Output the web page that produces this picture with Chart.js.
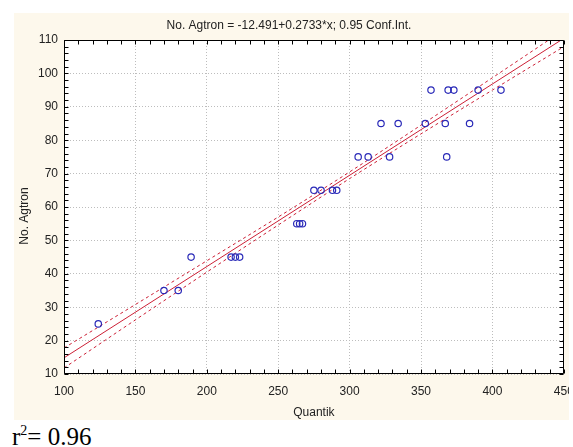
<!DOCTYPE html>
<html>
<head>
<meta charset="utf-8">
<script src="https://cdn.jsdelivr.net/npm/chart.js@4/dist/chart.umd.min.js"></script>
<style>
  html, body { margin: 0; padding: 0; background: #ffffff; }
  #wrap { position: absolute; left: 0; top: 0; width: 569px; height: 420px; }
  #r2 {
    position: absolute; left: 12px; top: 424px;
    font-family: "Liberation Serif", "Times New Roman", serif;
    font-size: 25px; line-height: 25px; color: #000; white-space: nowrap;
  }
  #r2 span { font-size: 14px; position: relative; top: -10px; }
</style>
</head>
<body>
<div id="wrap"><canvas id="c" width="569" height="420"></canvas></div>
<div id="r2">r<span>2</span>= 0.96</div>
<script>
// Observations: Quantik reading vs. Agtron number
const quantik = [124, 170, 180, 189, 217, 220, 223, 263, 265, 267,
                 275, 280, 288, 291, 306, 313, 328, 368,
                 322, 334, 353, 367, 384, 357, 369, 373, 390, 406];
const agtron  = [25, 35, 35, 45, 45, 45, 45, 55, 55, 55,
                 65, 65, 65, 65, 75, 75, 75, 75,
                 85, 85, 85, 85, 85, 95, 95, 95, 95, 95];

// Fitted line: No. Agtron = -12.491 + 0.2733 * x
const fitIntercept = -12.491;
const fitSlope = 0.2733;
const fitX = [100, 450];

// 0.95 confidence band of the fit
const bandX     = [100, 150, 200, 250, 300, 350, 400, 450];
const bandUpper = [17.8, 30.8, 43.9, 57.0, 70.5, 84.5, 98.7, 113.0];
const bandLower = [11.8, 26.2, 40.5, 54.6, 68.5, 81.9, 95.0, 108.0];

const titleText = 'No. Agtron = -12.491+0.2733*x; 0.95 Conf.Int.';
const xTitle = 'Quantik';
const yTitle = 'No. Agtron';

const FONT = '"Liberation Sans", Arial, sans-serif';
const TEXT = '#222222';
const RED = '#cc2036';
const BLUE = '#2a2ab8';

const toPts = (xs, ys) => xs.map((x, i) => ({ x: x, y: ys[i] }));

// Panel background, plot frame, inward tick marks and the vertical axis title
const framePlugin = {
  id: 'framePlugin',
  beforeDraw(chart) {
    const ctx = chart.ctx, a = chart.chartArea;
    ctx.save();
    ctx.fillStyle = '#fdf8ec';
    ctx.fillRect(14, 13, chart.width - 14, chart.height - 13);
    ctx.fillStyle = '#ffffff';
    ctx.fillRect(a.left, a.top, a.right - a.left, a.bottom - a.top);
    ctx.restore();
  },
  afterDraw(chart) {
    const ctx = chart.ctx, a = chart.chartArea;
    const xs = chart.scales.x, ys = chart.scales.y;
    ctx.save();
    ctx.strokeStyle = '#000000';
    ctx.lineWidth = 1;
    ctx.beginPath();
    const L = Math.round(a.left) + 0.5, R = Math.round(a.right) - 0.5;
    const T = Math.round(a.top) + 0.5, B = Math.round(a.bottom) - 0.5;
    ctx.rect(L, T, R - L, B - T);
    ctx.stroke();
    ctx.beginPath();
    for (let v = xs.min; v <= xs.max; v += 10) {
      const p = Math.round(xs.getPixelForValue(v)) + 0.5;
      ctx.moveTo(p, B); ctx.lineTo(p, B - 4);
      ctx.moveTo(p, T); ctx.lineTo(p, T + 4);
    }
    for (let v = ys.min; v <= ys.max; v += 2) {
      const p = Math.round(ys.getPixelForValue(v)) + 0.5;
      ctx.moveTo(L, p); ctx.lineTo(L + 4, p);
      ctx.moveTo(R, p); ctx.lineTo(R - 4, p);
    }
    ctx.stroke();

    // vertical axis title, a little below the plot's middle
    ctx.translate(25, ys.getPixelForValue(57.3));
    ctx.rotate(-Math.PI / 2);
    ctx.fillStyle = TEXT;
    ctx.font = '12px ' + FONT;
    ctx.textAlign = 'center';
    ctx.textBaseline = 'middle';
    ctx.fillText(yTitle, 0, 0);
    ctx.restore();
  }
};

const tickFont = { family: FONT, size: 12, weight: 'normal' };

new Chart(document.getElementById('c'), {
  type: 'scatter',
  data: {
    datasets: [
      {
        label: 'obs',
        data: toPts(quantik, agtron),
        showLine: false,
        pointRadius: 3.2,
        pointBorderWidth: 1.2,
        borderColor: BLUE,
        backgroundColor: 'rgba(0,0,0,0)'
      },
      {
        label: 'fit',
        type: 'line',
        data: fitX.map(x => ({ x: x, y: fitIntercept + fitSlope * x })),
        borderColor: RED,
        borderWidth: 1,
        pointRadius: 0,
        fill: false
      },
      {
        label: 'upper',
        type: 'line',
        data: toPts(bandX, bandUpper),
        borderColor: RED,
        borderWidth: 1,
        borderDash: [3, 3],
        pointRadius: 0,
        cubicInterpolationMode: 'monotone',
        fill: false
      },
      {
        label: 'lower',
        type: 'line',
        data: toPts(bandX, bandLower),
        borderColor: RED,
        borderWidth: 1,
        borderDash: [3, 3],
        pointRadius: 0,
        cubicInterpolationMode: 'monotone',
        fill: false
      }
    ]
  },
  options: {
    responsive: false,
    animation: false,
    events: [],
    layout: { padding: { left: 14, top: 12, right: 5, bottom: 0 } },
    plugins: {
      legend: { display: false },
      tooltip: { enabled: false },
      title: {
        display: true,
        text: titleText,
        color: TEXT,
        font: { family: FONT, size: 12, weight: 'normal', lineHeight: 1.2 },
        padding: { top: 6, bottom: 7.6 }
      }
    },
    scales: {
      x: {
        type: 'linear',
        min: 100, max: 450,
        ticks: { stepSize: 50, color: TEXT, font: tickFont, padding: 10, maxRotation: 0, autoSkip: false },
        grid: { color: '#bdbdbd', lineWidth: 1, drawTicks: false },
        border: { display: false, dash: [1, 2] },
        title: { display: true, text: xTitle, color: TEXT, font: tickFont, padding: { top: 0, bottom: 0 } },
        afterFit(s) { s.height = 46; s.paddingLeft = 0; s.paddingRight = 0; }
      },
      y: {
        type: 'linear',
        min: 10, max: 110,
        ticks: { stepSize: 10, color: TEXT, font: tickFont, padding: 6 },
        grid: { color: '#bdbdbd', lineWidth: 1, drawTicks: false },
        border: { display: false, dash: [1, 2] },
        title: { display: false },
        afterFit(s) { s.width = 50; s.paddingTop = 0; s.paddingBottom = 0; }
      }
    }
  },
  plugins: [framePlugin]
});
</script>
</body>
</html>
